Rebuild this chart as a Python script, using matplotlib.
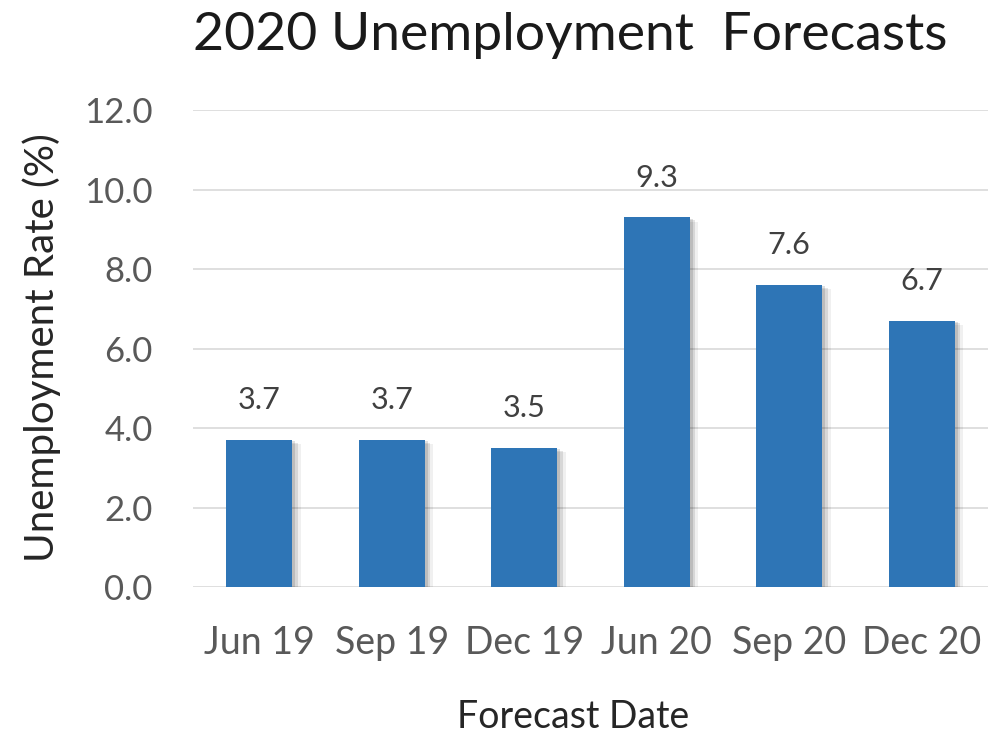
import matplotlib.pyplot as plt
import matplotlib.patheffects as pe

dates = ['Jun 19', 'Sep 19', 'Dec 19', 'Jun 20', 'Sep 20', 'Dec 20']
rates = [3.7, 3.7, 3.5, 9.3, 7.6, 6.7]
yticks = [0, 2, 4, 6, 8, 10, 12]

plt.rcParams['font.family'] = ['Lato', 'DejaVu Sans']

fig = plt.figure(figsize=(9.94, 7.37), dpi=100)
ax = fig.add_axes([0.194, 0.2035, 0.80, 0.6472])

# soft drop shadow on the bars, like the spreadsheet default
shadow = [pe.SimplePatchShadow(offset=(6, -3), shadow_rgbFace='black', alpha=0.06),
          pe.SimplePatchShadow(offset=(4, -2), shadow_rgbFace='black', alpha=0.10),
          pe.SimplePatchShadow(offset=(2, -1), shadow_rgbFace='black', alpha=0.12),
          pe.Normal()]
bars = ax.bar(range(len(dates)), rates, width=0.5, color='#2E75B6', zorder=3)
for b in bars:
    b.set_path_effects(shadow)

for i, v in enumerate(rates):
    ax.text(i, v + 1.0, f'{v:.1f}', ha='center', va='center',
            fontsize=22, color='#404040')

ax.set_xlim(-0.5, len(dates) - 0.5)
ax.set_ylim(0, 12)
ax.set_yticks(yticks)
ax.set_yticklabels([f'{t:.1f}' for t in yticks])
ax.set_xticks(range(len(dates)))
ax.set_xticklabels(dates)
ax.tick_params(axis='both', length=0, labelcolor='#595959')
ax.tick_params(axis='x', labelsize=27, pad=27)
ax.tick_params(axis='y', labelsize=25, pad=29)
ax.grid(axis='y', color='#D9D9D9', linewidth=1.2, zorder=0)
ax.set_axisbelow(True)
for s in ax.spines.values():
    s.set_visible(False)

fig.text(0.042, 0.529, 'Unemployment Rate (%)', rotation=90, ha='center', va='center',
         fontsize=29, color='#262626')
fig.text(0.5765, 0.027, 'Forecast Date', ha='center', va='center',
         fontsize=27, color='#262626')
fig.text(0.5734, 0.9525, '2020 Unemployment  Forecasts', ha='center', va='center',
         fontsize=38.5, color='#1a1a1a')

fig.savefig('out.png', dpi=100)
